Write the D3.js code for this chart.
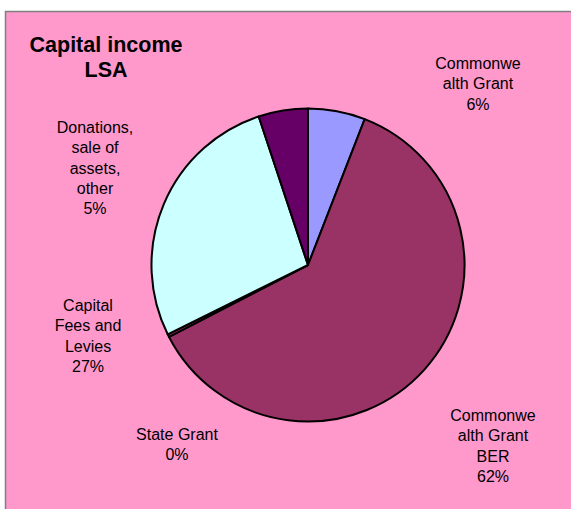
<!DOCTYPE html>
<html>
<head>
<meta charset="utf-8">
<script src="https://cdn.jsdelivr.net/npm/d3@7"></script>
<style>
  body { margin: 0; background: #fff; }
  svg { display: block; }
  text { font-family: "Liberation Sans", Arial, sans-serif; fill: #000; }
</style>
</head>
<body>
<svg width="571" height="509"></svg>
<script>
// slice data, clockwise from 12 o'clock
var categories = ['Commonwealth Grant', 'Commonwealth Grant BER', 'State Grant', 'Capital Fees and Levies', 'Donations, sale of assets, other'];
var values = [5.9, 61.5, 0.3, 27.2, 5.1];
var labelLines = [
  ['Commonwe', 'alth Grant'],
  ['Commonwe', 'alth Grant', 'BER'],
  ['State Grant'],
  ['Capital', 'Fees and', 'Levies'],
  ['Donations,', 'sale of', 'assets,', 'other']
];
var colors = ['#9999ff', '#993366', '#993366', '#ccffff', '#660066'];
// where the label blocks sit (centre x, first line y)
var labelPos = [[478, 69], [493, 421], [177, 440], [88, 311], [95, 133]];

var svg = d3.select('svg');
var width = +svg.attr('width'), height = +svg.attr('height');

svg.append('rect')
  .attr('x', 5.5).attr('y', 11.5)
  .attr('width', width).attr('height', height)
  .attr('fill', '#ff99cc')
  .attr('stroke', '#808080')
  .attr('stroke-width', 1.5);

var cx = 308, cy = 265, r = 156.5;
var pie = d3.pie().sort(null).value(d => d);
var arc = d3.arc().innerRadius(0).outerRadius(r);
var total = d3.sum(values);

var g = svg.append('g').attr('transform', 'translate(' + cx + ',' + cy + ')');
g.selectAll('path')
  .data(pie(values))
  .enter()
  .append('path')
  .attr('d', arc)
  .attr('fill', (d, i) => colors[i])
  .attr('stroke', '#000')
  .attr('stroke-width', 2)
  .attr('stroke-linejoin', 'round');

// title
var title = svg.append('text')
  .attr('text-anchor', 'middle')
  .style('font-size', '21.5px')
  .style('font-weight', 'bold');
title.append('tspan').attr('x', 106).attr('y', 52).text('Capital income');
title.append('tspan').attr('x', 106).attr('y', 77).text('LSA');

// slice labels
categories.forEach(function (c, i) {
  var lines = labelLines[i].concat([Math.round(values[i] / total * 100) + '%']);
  var t = svg.append('text')
    .attr('text-anchor', 'middle')
    .style('font-size', '16px');
  lines.forEach(function (l, j) {
    t.append('tspan')
      .attr('x', labelPos[i][0])
      .attr('y', labelPos[i][1] + j * 20.3)
      .text(l);
  });
});
</script>
</body>
</html>
